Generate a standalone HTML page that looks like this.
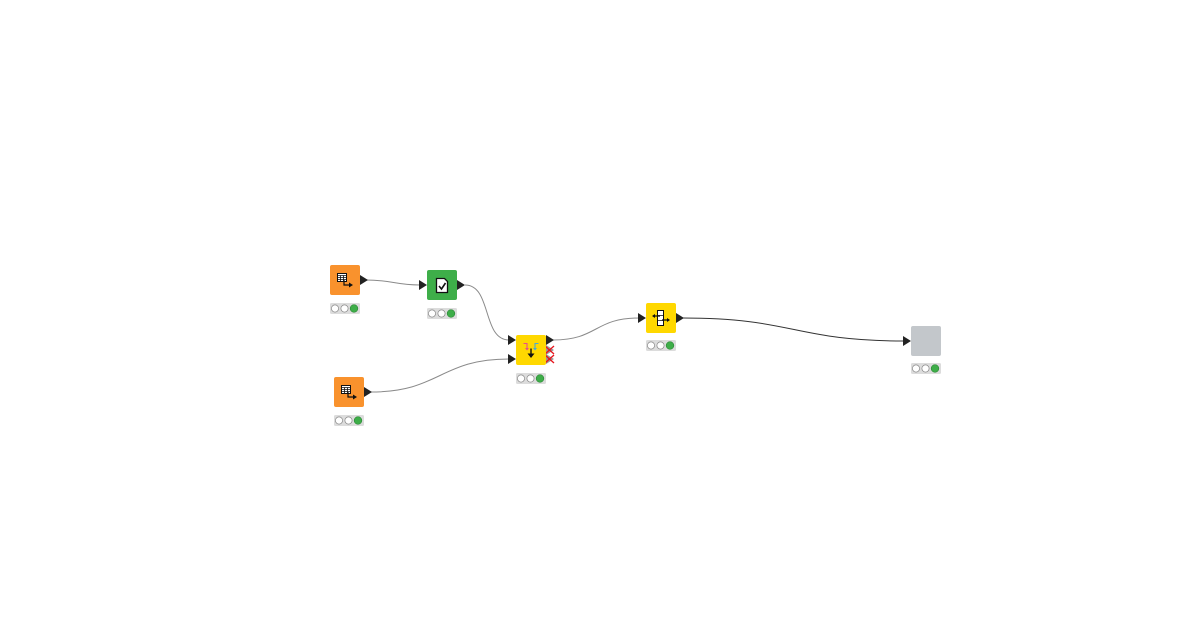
<!DOCTYPE html>
<html><head><meta charset="utf-8"><style>
html,body{margin:0;padding:0;background:#fff;}
svg{display:block;}
</style></head><body>
<svg width="1200" height="630" viewBox="0 0 1200 630" xmlns="http://www.w3.org/2000/svg">
<rect width="1200" height="630" fill="#ffffff"/>
<!-- edges -->
<g fill="none" stroke-width="1">
<path d="M366,280 C392,280 395,285 420,285" stroke="#8a8a8a"/>
<path d="M465,285 C492,285 482,340 509,340" stroke="#8a8a8a"/>
<path d="M371,392 C440,392 440,359 509,359" stroke="#8a8a8a"/>
<path d="M553,340 C598,340 594,318 639,318" stroke="#8a8a8a"/>
<path d="M683,318 C794,318 794,341 904,341" stroke="#333"/>
</g>
<!-- arrowheads -->
<g fill="#222">
<!-- A out -->
<polygon points="360,275 368,280 360,285"/>
<!-- B in -->
<polygon points="419,280 427,285 419,290"/>
<!-- B out -->
<polygon points="457,280 465,285 457,290"/>
<!-- C in1 -->
<polygon points="508,335 516,340 508,345"/>
<!-- C in2 -->
<polygon points="508,354 516,359 508,364"/>
<!-- C out -->
<polygon points="546,335 554,340 546,345"/>
<!-- D out -->
<polygon points="364,387 372,392 364,397"/>
<!-- E in -->
<polygon points="638,313 646,318 638,323"/>
<!-- E out -->
<polygon points="676,313 684,318 676,323"/>
<!-- F in -->
<polygon points="903,336 911,341 903,346"/>
</g>
<!-- C inactive ports with red X -->
<g>
<polygon points="546,345 554,350 546,355" fill="#999"/>
<polygon points="546,354 554,359 546,364" fill="#999"/>
<g stroke="#e8141c" stroke-width="1.3">
<line x1="545" y1="346" x2="554" y2="354"/><line x1="554" y1="346" x2="545" y2="354"/>
<line x1="545" y1="355" x2="554" y2="363"/><line x1="554" y1="355" x2="545" y2="363"/>
</g>
</g>

<!-- Node A orange -->
<rect x="330" y="265" width="30" height="30" rx="2" fill="#f9922d"/>
<g transform="translate(330,265)">
<rect x="7.5" y="8.5" width="9" height="8" fill="#fff" stroke="#111" stroke-width="1"/>
<path d="M7.5,10.5h9M7.5,12.5h9M7.5,14.5h9M10.5,10.5v6M13.5,10.5v6" stroke="#111" stroke-width="0.8"/>
<path d="M14,15v5h6" fill="none" stroke="#111" stroke-width="1.2"/>
<polygon points="19,17.5 23,20 19,22.5" fill="#111"/>
</g>
<!-- Node D orange -->
<rect x="334" y="377" width="30" height="30" rx="2" fill="#f9922d"/>
<g transform="translate(334,377)">
<rect x="7.5" y="8.5" width="9" height="8" fill="#fff" stroke="#111" stroke-width="1"/>
<path d="M7.5,10.5h9M7.5,12.5h9M7.5,14.5h9M10.5,10.5v6M13.5,10.5v6" stroke="#111" stroke-width="0.8"/>
<path d="M14,15v5h6" fill="none" stroke="#111" stroke-width="1.2"/>
<polygon points="19,17.5 23,20 19,22.5" fill="#111"/>
</g>
<!-- Node B green -->
<rect x="427" y="270" width="30" height="30" rx="2" fill="#3eae49"/>
<g transform="translate(427,270)">
<path d="M9.5,8.5h8l3,3v11h-11z" fill="#fff" stroke="#111" stroke-width="1.3"/>
<path d="M12,16l2.5,3l4-6" fill="none" stroke="#111" stroke-width="1.6"/>
</g>
<!-- Node C yellow -->
<rect x="516" y="335" width="30" height="30" rx="2" fill="#ffd800"/>
<g transform="translate(516,335)">
<path d="M7.5,8.5h3.5v5" fill="none" stroke="#e8508a" stroke-width="1.1"/>
<polygon points="9,13 13,13 11,15.5" fill="#e8508a"/>
<path d="M22.5,8.5h-3.5v5" fill="none" stroke="#48a8d8" stroke-width="1.1"/>
<polygon points="17,13 21,13 19,15.5" fill="#48a8d8"/>
<path d="M15,13.5v6" stroke="#111" stroke-width="1.4"/>
<polygon points="11.5,18.5 18.5,18.5 15,23" fill="#111"/>
</g>
<!-- Node E yellow -->
<rect x="646" y="303" width="30" height="30" rx="2" fill="#ffd800"/>
<g transform="translate(646,303)">
<rect x="11.5" y="7.5" width="6" height="15" fill="#fff" stroke="#111" stroke-width="1"/>
<path d="M11.5,12.5h6M11.5,17.5h6" stroke="#111" stroke-width="0.8"/>
<path d="M7,13h7M16,17h7" stroke="#111" stroke-width="1.2"/>
<polygon points="6,13 9,11 9,15" fill="#111"/>
<polygon points="24,17 21,15 21,19" fill="#111"/>
</g>
<!-- Node F gray -->
<rect x="911" y="326" width="30" height="30" rx="2" fill="#c3c7cb"/>

<!-- status bars -->
<g id="st">
</g>
<g stroke="#888" stroke-width="0.7">
<g transform="translate(330,303)">
<rect x="0" y="0" width="30" height="11" rx="1.5" fill="#dcdcdc" stroke="none"/>
<circle cx="5" cy="5.5" r="3.6" fill="#fff"/><circle cx="14.5" cy="5.5" r="3.6" fill="#fff"/><circle cx="24" cy="5.5" r="3.8" fill="#3eae49" stroke="#2e8a38"/>
</g>
<g transform="translate(427,308)">
<rect x="0" y="0" width="30" height="11" rx="1.5" fill="#dcdcdc" stroke="none"/>
<circle cx="5" cy="5.5" r="3.6" fill="#fff"/><circle cx="14.5" cy="5.5" r="3.6" fill="#fff"/><circle cx="24" cy="5.5" r="3.8" fill="#3eae49" stroke="#2e8a38"/>
</g>
<g transform="translate(516,373)">
<rect x="0" y="0" width="30" height="11" rx="1.5" fill="#dcdcdc" stroke="none"/>
<circle cx="5" cy="5.5" r="3.6" fill="#fff"/><circle cx="14.5" cy="5.5" r="3.6" fill="#fff"/><circle cx="24" cy="5.5" r="3.8" fill="#3eae49" stroke="#2e8a38"/>
</g>
<g transform="translate(334,415)">
<rect x="0" y="0" width="30" height="11" rx="1.5" fill="#dcdcdc" stroke="none"/>
<circle cx="5" cy="5.5" r="3.6" fill="#fff"/><circle cx="14.5" cy="5.5" r="3.6" fill="#fff"/><circle cx="24" cy="5.5" r="3.8" fill="#3eae49" stroke="#2e8a38"/>
</g>
<g transform="translate(646,340)">
<rect x="0" y="0" width="30" height="11" rx="1.5" fill="#dcdcdc" stroke="none"/>
<circle cx="5" cy="5.5" r="3.6" fill="#fff"/><circle cx="14.5" cy="5.5" r="3.6" fill="#fff"/><circle cx="24" cy="5.5" r="3.8" fill="#3eae49" stroke="#2e8a38"/>
</g>
<g transform="translate(911,363)">
<rect x="0" y="0" width="30" height="11" rx="1.5" fill="#dcdcdc" stroke="none"/>
<circle cx="5" cy="5.5" r="3.6" fill="#fff"/><circle cx="14.5" cy="5.5" r="3.6" fill="#fff"/><circle cx="24" cy="5.5" r="3.8" fill="#3eae49" stroke="#2e8a38"/>
</g>
</g>
</svg>
</body></html>
